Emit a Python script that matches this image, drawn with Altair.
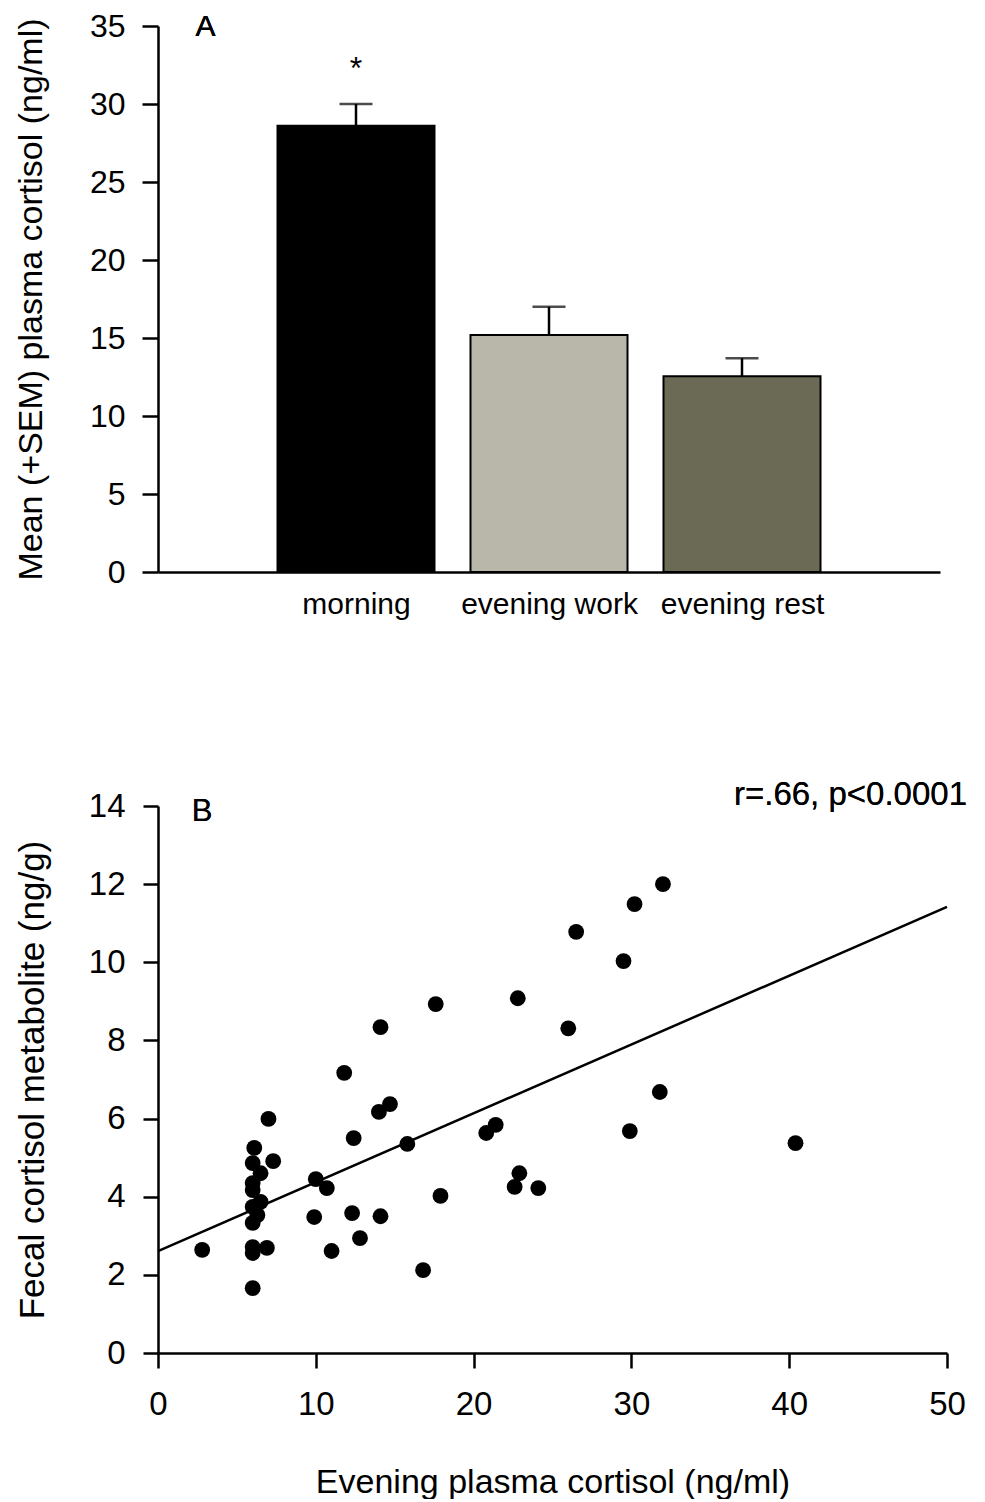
import json
import altair as alt
import pandas as pd

FONT = "Liberation Sans"

# ---------- Panel A data ----------
conditions = ["morning", "evening work", "evening rest"]
positions = [1, 2, 3]
means = [28.6, 15.2, 12.55]
sems = [1.4, 1.8, 1.15]
bar_colors = ["#000000", "#b8b7aa", "#6b6b55"]
sig_marks = ["*", "", ""]

# ---------- Panel B data ----------
plasma = [2.8, 6.0, 6.0, 6.0, 6.9, 6.0, 6.3, 6.0, 6.5, 6.0, 6.0, 6.5, 6.0, 6.1,
          7.3, 7.0, 9.9, 10.0, 10.7, 11.0, 11.8, 12.3, 12.4, 12.8, 14.0, 14.1,
          14.1, 14.7, 15.8, 16.8, 17.6, 17.9, 20.8, 21.4, 22.6, 22.8, 22.9, 24.1,
          26.0, 26.5, 29.5, 29.9, 30.2, 31.8, 32.0, 40.4]
fecal = [2.64, 1.66, 2.56, 2.71, 2.69, 3.33, 3.53, 3.74, 3.87, 4.17, 4.35, 4.6, 4.86, 5.25,
         4.91, 5.99, 3.48, 4.45, 4.22, 2.61, 7.17, 3.58, 5.5, 2.94, 6.17, 3.5,
         8.34, 6.37, 5.35, 2.12, 8.93, 4.02, 5.63, 5.84, 4.25, 9.08, 4.6, 4.22,
         8.31, 10.78, 10.03, 5.68, 11.49, 6.68, 12.0, 5.37]
fit_x = [0, 50]
fit_y = [2.61, 11.42]
annotation = "r=.66, p<0.0001"

dfA = pd.DataFrame({"condition": conditions, "pos": positions, "mean": means,
                    "sem": sems, "color": bar_colors, "sig": sig_marks})
dfA["upper"] = dfA["mean"] + dfA["sem"]

dfB = pd.DataFrame({"plasma": plasma, "fecal": fecal})
dfFit = pd.DataFrame({"plasma": fit_x, "fecal": fit_y})

LW = 2.5

# ---------- Panel A ----------
xscaleA = alt.Scale(domain=[0, 4], nice=False, zero=False)
yscaleA = alt.Scale(domain=[0, 35], nice=False)
xaxisA = alt.Axis(values=positions, labelExpr=f"{json.dumps(conditions)}[datum.value - 1]",
                  ticks=False, tickSize=0, labelPadding=17, labelFontSize=30,
                  title=None, domainWidth=LW, domainColor="black", grid=False, labelFlush=False)
yaxisA = alt.Axis(values=list(range(0, 36, 5)), tickSize=16, tickWidth=LW, domainWidth=LW,
                  labelPadding=17, labelFontSize=32, title="Mean (+SEM) plasma cortisol (ng/ml)",
                  titleFontSize=34, titleFontWeight="normal", titlePadding=41, grid=False)

def xA(field="pos"):
    return alt.X(f"{field}:Q", scale=xscaleA, axis=xaxisA)

def yA(field):
    return alt.Y(f"{field}:Q", scale=yscaleA, axis=yaxisA)

bars = alt.Chart(dfA).mark_bar(size=157, stroke="black", strokeWidth=2).encode(
    x=xA(), y=yA("mean"), color=alt.Color("color:N", scale=None, legend=None))
err = alt.Chart(dfA).mark_rule(strokeWidth=LW, color="black").encode(
    x=xA(), y=yA("mean"), y2="upper:Q")
cap = alt.Chart(dfA).mark_tick(orient="horizontal", size=33, thickness=LW, color="black").encode(
    x=xA(), y=yA("upper"))
star = alt.Chart(dfA).mark_text(fontSize=32, font=FONT, baseline="alphabetic", dy=-25, color="black").encode(
    x=xA(), y=yA("upper"), text="sig:N")
labelA = alt.Chart(dfA).mark_text(fontSize=30, font=FONT, baseline="middle", align="center",
                                  dy=1, color="black").encode(
    x=alt.datum(0.22, scale=xscaleA, axis=xaxisA), y=alt.datum(35, scale=yscaleA, axis=yaxisA),
    text=alt.value("A"))

panelA = alt.layer(bars, err, cap, star, labelA).properties(width=782, height=546)

# ---------- Panel B ----------
xscaleB = alt.Scale(domain=[0, 50], nice=False)
yscaleB = alt.Scale(domain=[0, 14], nice=False)
xaxisB = alt.Axis(values=list(range(0, 51, 10)), tickSize=15, tickWidth=LW, domainWidth=LW,
                  labelPadding=20, labelFontSize=33, title="Evening plasma cortisol (ng/ml)",
                  titleFontSize=34, titleFontWeight="normal", titlePadding=44, grid=False,
                  labelFlush=False)
yaxisB = alt.Axis(values=list(range(0, 15, 2)), tickSize=15, tickWidth=LW, domainWidth=LW,
                  labelPadding=18, labelFontSize=33, title="Fecal cortisol metabolite (ng/g)",
                  titleFontSize=35, titleFontWeight="normal", titlePadding=38, grid=False)

def xB():
    return alt.X("plasma:Q", scale=xscaleB, axis=xaxisB)

def yB():
    return alt.Y("fecal:Q", scale=yscaleB, axis=yaxisB)

points = alt.Chart(dfB).mark_circle(size=250, color="black", opacity=1).encode(x=xB(), y=yB())
fit = alt.Chart(dfFit).mark_line(color="black", strokeWidth=LW).encode(x=xB(), y=yB())
stat = alt.Chart(dfFit).mark_text(fontSize=33, font=FONT, align="right", baseline="middle",
                                  dx=20, dy=-11, color="black").encode(
    x=alt.datum(50, scale=xscaleB, axis=xaxisB), y=alt.datum(14, scale=yscaleB, axis=yaxisB),
    text=alt.value(annotation))
labelB = alt.Chart(dfFit).mark_text(fontSize=31, font=FONT, align="center", baseline="middle", color="black").encode(
    x=alt.datum(2.8, scale=xscaleB, axis=xaxisB), y=alt.datum(13.85, scale=yscaleB, axis=yaxisB),
    text=alt.value("B"))

panelB = alt.layer(fit, points, stat, labelB).properties(width=789, height=547)

chart = alt.vconcat(panelA, panelB, spacing=160).properties(
    padding={"left": 6, "top": 2, "right": 5, "bottom": 0},
    background="white"
).configure_view(strokeWidth=0, stroke="transparent").configure_axis(
    domainColor="black", tickColor="black", labelColor="black", titleColor="black",
    labelFont=FONT, titleFont=FONT, titleFontWeight="normal", grid=False
)

chart.save("out.html", embed_options={"renderer": "svg", "actions": False})
